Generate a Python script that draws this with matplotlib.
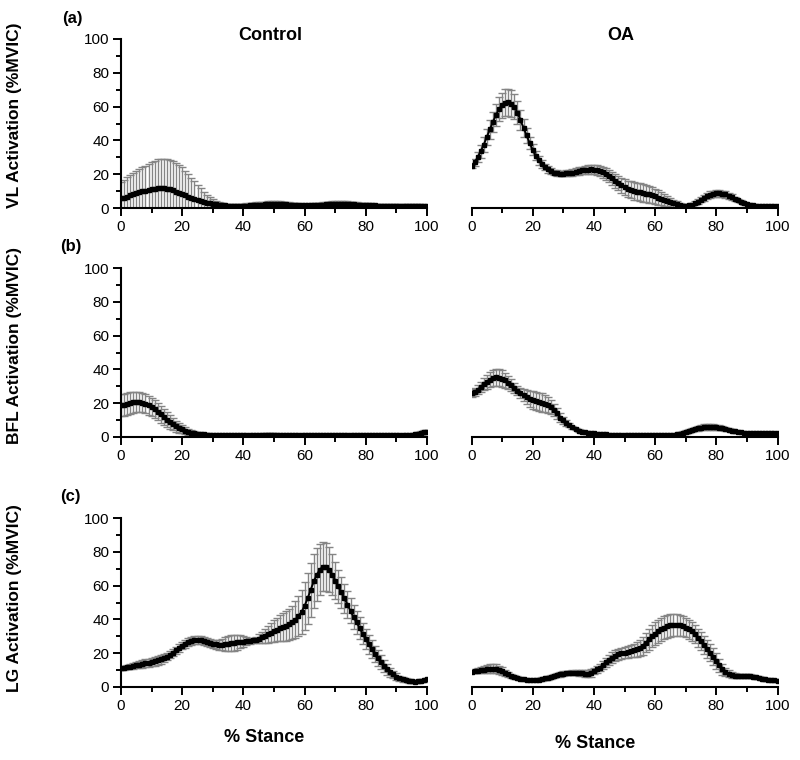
"""
EMG activation (%MVIC) over stance for Control vs OA groups.
Mean curves with SD error bars, three muscles (VL, BFL, LG).
"""

import numpy as np
import matplotlib.pyplot as plt

plt.rcParams["font.family"] = ["Liberation Sans", "DejaVu Sans"]

# ------------------------------
# Data (0..100 % stance, 1 % steps)
# ------------------------------
stance = np.arange(101)

vl_ctrl_mean = [
    5.7, 6.2, 6.8, 7.4, 8.0, 8.6, 9.2, 9.8, 10.3, 10.8, 11.2,
    11.5, 11.7, 11.8, 11.7, 11.4, 11.0, 10.4, 9.7, 9.0, 8.2,
    7.5, 6.8, 6.1, 5.4, 4.7, 4.1, 3.6, 3.2, 2.8, 2.5,
    2.2, 1.9, 1.7, 1.5, 1.4, 1.3, 1.3, 1.3, 1.3, 1.3,
    1.4, 1.5, 1.6, 1.8, 1.9, 2.0, 2.1, 2.2, 2.3, 2.3,
    2.3, 2.3, 2.2, 2.1, 2.0, 1.9, 1.8, 1.7, 1.6, 1.6,
    1.6, 1.6, 1.7, 1.8, 1.9, 2.0, 2.1, 2.2, 2.3, 2.4,
    2.4, 2.4, 2.4, 2.3, 2.2, 2.1, 2.0, 1.9, 1.8, 1.7,
    1.6, 1.5, 1.5, 1.4, 1.4, 1.4, 1.4, 1.4, 1.4, 1.4,
    1.4, 1.4, 1.3, 1.3, 1.3, 1.2, 1.2, 1.2, 1.1, 1.1,
]
vl_ctrl_sd = [
    9.8, 10.6, 11.4, 12.1, 12.8, 13.4, 13.9, 14.3, 14.7, 15.2, 15.8,
    16.5, 17.1, 17.3, 17.4, 17.4, 17.4, 17.2, 16.9, 16.4, 15.8,
    14.6, 13.3, 11.9, 10.4, 8.9, 7.5, 6.0, 4.7, 3.5, 2.6,
    1.9, 1.4, 1.2, 1.1, 1.1, 1.1, 1.1, 1.1, 1.2, 1.2,
    1.3, 1.4, 1.5, 1.5, 1.6, 1.6, 1.7, 1.7, 1.7, 1.7,
    1.7, 1.6, 1.5, 1.4, 1.3, 1.2, 1.1, 1.0, 0.9, 0.9,
    0.9, 1.0, 1.1, 1.2, 1.3, 1.4, 1.5, 1.5, 1.6, 1.6,
    1.6, 1.6, 1.6, 1.6, 1.5, 1.4, 1.3, 1.2, 1.2, 1.1,
    1.1, 1.1, 1.1, 1.1, 1.1, 1.0, 1.0, 1.0, 1.0, 1.0,
    1.0, 1.0, 0.9, 0.9, 0.9, 0.9, 0.9, 0.9, 0.9, 0.9,
]
vl_oa_mean = [
    25.0, 27.0, 30.0, 33.5, 37.5, 42.0, 46.5, 51.0, 55.0, 58.5, 60.8,
    62.2, 62.5, 61.8, 59.8, 56.5, 52.0, 47.5, 43.0, 38.5, 34.5,
    31.0, 28.2, 26.0, 24.2, 22.8, 21.7, 21.0, 20.6, 20.4, 20.4,
    20.5, 20.7, 21.0, 21.4, 21.8, 22.2, 22.5, 22.7, 22.8, 22.7,
    22.4, 21.9, 21.2, 20.2, 19.0, 17.6, 16.1, 14.7, 13.4, 12.3,
    11.4, 10.7, 10.1, 9.7, 9.3, 8.9, 8.5, 8.0, 7.5, 6.9,
    6.2, 5.5, 4.8, 4.1, 3.4, 2.8, 2.2, 1.7, 1.4, 1.3,
    1.5, 2.0, 2.8, 3.8, 4.9, 6.0, 7.0, 7.8, 8.3, 8.6,
    8.6, 8.4, 8.0, 7.3, 6.5, 5.5, 4.5, 3.6, 2.8, 2.2,
    1.8, 1.5, 1.3, 1.2, 1.2, 1.2, 1.2, 1.3, 1.3, 1.4,
]
vl_oa_sd = [
    1.5, 2.0, 3.0, 4.0, 4.5, 5.0, 5.5, 6.0, 6.5, 7.0, 7.5,
    8.0, 8.0, 7.8, 7.4, 6.8, 6.0, 5.2, 4.5, 3.8, 3.2,
    2.8, 2.5, 2.2, 2.0, 1.8, 1.7, 1.6, 1.6, 1.6, 1.7,
    1.8, 1.9, 2.0, 2.1, 2.2, 2.3, 2.4, 2.5, 2.6, 2.7,
    2.8, 3.0, 3.2, 3.4, 3.6, 3.8, 4.0, 4.2, 4.4, 4.6,
    4.8, 5.0, 5.1, 5.2, 5.2, 5.2, 5.1, 5.0, 4.8, 4.5,
    4.2, 3.8, 3.4, 3.0, 2.6, 2.2, 1.8, 1.4, 1.0, 0.8,
    0.8, 1.0, 1.2, 1.4, 1.6, 1.8, 1.9, 2.0, 2.0, 2.0,
    2.0, 1.9, 1.8, 1.7, 1.5, 1.3, 1.1, 0.9, 0.8, 0.7,
    0.6, 0.6, 0.6, 0.6, 0.6, 0.6, 0.6, 0.6, 0.6, 0.6,
]

bfl_ctrl_mean = [
    18.7, 19.2, 19.7, 20.1, 20.5, 20.7, 20.7, 20.4, 19.8, 18.9, 17.8,
    16.5, 15.0, 13.4, 11.8, 10.3, 8.9, 7.6, 6.4, 5.4, 4.5,
    3.8, 3.1, 2.6, 2.2, 1.9, 1.7, 1.5, 1.4, 1.3, 1.2,
    1.2, 1.1, 1.1, 1.1, 1.1, 1.1, 1.1, 1.1, 1.1, 1.1,
    1.1, 1.1, 1.2, 1.2, 1.3, 1.3, 1.4, 1.4, 1.4, 1.4,
    1.3, 1.3, 1.2, 1.2, 1.2, 1.1, 1.1, 1.1, 1.1, 1.1,
    1.1, 1.1, 1.1, 1.1, 1.1, 1.1, 1.1, 1.1, 1.1, 1.1,
    1.1, 1.1, 1.1, 1.1, 1.1, 1.1, 1.1, 1.1, 1.1, 1.1,
    1.1, 1.1, 1.1, 1.1, 1.0, 1.0, 1.0, 1.0, 0.9, 0.9,
    0.9, 0.9, 1.0, 1.1, 1.3, 1.6, 2.0, 2.4, 2.8, 3.1,
]
bfl_ctrl_sd = [
    6.5, 6.5, 6.4, 6.3, 6.2, 6.0, 5.9, 5.8, 5.7, 5.6, 5.5,
    5.3, 5.1, 4.9, 4.6, 4.3, 4.0, 3.6, 3.2, 2.8, 2.4,
    2.0, 1.7, 1.4, 1.2, 1.0, 0.9, 0.8, 0.7, 0.7, 0.6,
    0.6, 0.6, 0.6, 0.6, 0.6, 0.6, 0.6, 0.6, 0.6, 0.6,
    0.6, 0.6, 0.6, 0.7, 0.7, 0.7, 0.7, 0.7, 0.7, 0.7,
    0.6, 0.6, 0.6, 0.6, 0.6, 0.6, 0.6, 0.6, 0.6, 0.6,
    0.5, 0.5, 0.5, 0.5, 0.5, 0.5, 0.5, 0.5, 0.5, 0.5,
    0.5, 0.5, 0.5, 0.5, 0.5, 0.5, 0.5, 0.5, 0.5, 0.5,
    0.5, 0.5, 0.5, 0.5, 0.5, 0.5, 0.5, 0.5, 0.5, 0.5,
    0.5, 0.5, 0.5, 0.6, 0.7, 0.8, 0.9, 1.0, 1.1, 1.2,
]
bfl_oa_mean = [
    26.0, 26.6, 28.0, 29.6, 31.2, 32.6, 33.8, 34.8, 35.3, 35.2, 34.6,
    33.6, 32.2, 30.6, 29.0, 27.4, 26.0, 24.8, 23.6, 22.6, 21.8,
    21.2, 20.8, 20.4, 19.8, 19.0, 17.8, 16.0, 14.0, 11.5, 9.8,
    8.4, 7.0, 5.8, 4.8, 3.8, 3.2, 2.8, 2.5, 2.3, 2.1,
    1.9, 1.8, 1.6, 1.5, 1.4, 1.3, 1.2, 1.2, 1.1, 1.1,
    1.0, 1.0, 1.0, 0.9, 0.9, 0.9, 0.9, 0.9, 0.9, 0.9,
    0.9, 0.9, 1.0, 1.0, 1.1, 1.3, 1.6, 2.0, 2.5, 3.0,
    3.6, 4.2, 4.8, 5.2, 5.5, 5.8, 5.9, 6.0, 5.9, 5.8,
    5.5, 5.2, 4.8, 4.3, 3.8, 3.4, 3.0, 2.7, 2.5, 2.4,
    2.4, 2.4, 2.4, 2.5, 2.5, 2.6, 2.6, 2.6, 2.6, 2.6,
]
bfl_oa_sd = [
    2.5, 2.5, 2.8, 3.2, 3.6, 4.0, 4.4, 4.7, 5.0, 5.0, 4.8,
    4.5, 4.0, 3.5, 3.0, 2.8, 3.0, 3.5, 4.2, 4.8, 5.2,
    5.4, 5.5, 5.4, 5.2, 4.8, 4.3, 3.7, 3.1, 2.5, 2.0,
    1.6, 1.3, 1.0, 0.8, 0.7, 0.6, 0.6, 0.5, 0.5, 0.5,
    0.5, 0.5, 0.5, 0.5, 0.5, 0.5, 0.5, 0.5, 0.5, 0.5,
    0.5, 0.5, 0.5, 0.5, 0.5, 0.5, 0.5, 0.5, 0.5, 0.5,
    0.5, 0.5, 0.5, 0.5, 0.5, 0.6, 0.7, 0.8, 0.9, 1.0,
    1.1, 1.2, 1.3, 1.4, 1.5, 1.6, 1.6, 1.6, 1.6, 1.5,
    1.4, 1.3, 1.2, 1.0, 0.9, 0.8, 0.7, 0.6, 0.6, 0.6,
    0.6, 0.6, 0.6, 0.6, 0.6, 0.6, 0.6, 0.6, 0.6, 0.6,
]

lg_ctrl_mean = [
    11.0, 11.3, 11.6, 12.0, 12.4, 12.8, 13.2, 13.6, 14.0, 14.4, 14.8,
    15.2, 15.7, 16.3, 17.0, 17.9, 19.0, 20.3, 21.7, 23.1, 24.4,
    25.6, 26.6, 27.3, 27.7, 27.8, 27.6, 27.2, 26.7, 26.1, 25.6,
    25.3, 25.1, 25.1, 25.3, 25.6, 25.9, 26.2, 26.5, 26.7, 26.9,
    27.1, 27.3, 27.6, 28.0, 28.6, 29.3, 30.2, 31.2, 32.2, 33.2,
    34.0, 34.8, 35.5, 36.2, 37.0, 38.2, 39.8, 42.0, 44.5, 48.0,
    52.5, 57.5, 62.5, 66.5, 69.5, 71.3, 71.0, 69.5, 66.5, 63.0,
    59.5, 56.0, 52.5, 48.8, 45.0, 41.5, 38.2, 35.0, 31.5, 28.3,
    25.2, 22.3, 19.5, 17.0, 14.6, 12.5, 10.5, 8.8, 7.4, 6.2,
    5.2, 4.5, 4.0, 3.6, 3.3, 3.2, 3.3, 3.6, 4.0, 4.5,
]
lg_ctrl_sd = [
    1.0, 1.1, 1.2, 1.4, 1.6, 1.8, 2.0, 2.2, 2.3, 2.4, 2.5,
    2.5, 2.5, 2.4, 2.3, 2.2, 2.1, 2.0, 2.0, 2.1, 2.2,
    2.3, 2.4, 2.5, 2.5, 2.5, 2.4, 2.3, 2.2, 2.2, 2.3,
    2.6, 3.0, 3.5, 4.0, 4.4, 4.7, 4.7, 4.4, 3.8, 3.0,
    2.2, 1.6, 1.5, 1.8, 2.5, 3.3, 4.1, 4.9, 5.6, 6.3,
    7.0, 7.6, 8.2, 8.8, 9.4, 10.0, 10.8, 11.8, 13.0, 14.2,
    15.2, 15.8, 16.0, 15.8, 15.2, 14.5, 14.0, 13.2, 12.2, 11.0,
    10.0, 9.2, 8.5, 7.9, 7.4, 7.0, 6.7, 6.4, 6.2, 6.0,
    5.7, 5.4, 5.0, 4.6, 4.2, 3.7, 3.2, 2.7, 2.2, 1.8,
    1.5, 1.3, 1.1, 1.0, 0.9, 0.9, 0.9, 0.9, 1.0, 1.0,
]
lg_oa_mean = [
    9.0, 9.3, 9.6, 9.9, 10.2, 10.5, 10.8, 10.9, 10.7, 10.2, 9.4,
    8.4, 7.5, 6.7, 6.0, 5.4, 4.9, 4.5, 4.3, 4.1, 4.1,
    4.2, 4.4, 4.7, 5.1, 5.5, 5.9, 6.4, 6.9, 7.4, 7.9,
    8.2, 8.4, 8.5, 8.5, 8.3, 8.1, 7.9, 7.9, 8.3, 9.4,
    10.5, 11.5, 13.0, 14.6, 16.1, 17.4, 18.5, 19.3, 19.9, 20.4,
    20.8, 21.2, 21.7, 22.3, 23.2, 24.5, 26.3, 28.3, 30.0, 31.6,
    33.0, 34.2, 35.2, 35.9, 36.4, 36.6, 36.6, 36.4, 36.0, 35.2,
    34.2, 32.9, 31.2, 29.2, 27.0, 24.7, 22.5, 20.4, 18.0, 15.4,
    12.8, 10.5, 8.9, 7.8, 7.1, 6.8, 6.7, 6.6, 6.6, 6.5,
    6.3, 6.1, 5.8, 5.5, 5.0, 4.7, 4.4, 4.2, 4.0, 3.8,
]
lg_oa_sd = [
    1.0, 1.2, 1.5, 1.8, 2.1, 2.4, 2.6, 2.7, 2.7, 2.5, 2.2,
    1.8, 1.5, 1.2, 1.0, 0.9, 0.8, 0.7, 0.7, 0.7, 0.7,
    0.8, 0.9, 1.0, 1.0, 1.1, 1.1, 1.2, 1.2, 1.3, 1.3,
    1.3, 1.3, 1.3, 1.4, 1.6, 1.8, 2.0, 2.1, 2.1, 2.0,
    2.0, 2.1, 2.3, 2.6, 2.9, 3.1, 3.2, 3.3, 3.3, 3.3,
    3.4, 3.6, 3.9, 4.3, 4.8, 5.3, 5.8, 6.2, 6.5, 6.7,
    6.8, 6.8, 6.8, 6.7, 6.6, 6.5, 6.4, 6.2, 6.0, 5.8,
    5.6, 5.5, 5.4, 5.4, 5.4, 5.4, 5.3, 5.2, 5.0, 4.6,
    4.0, 3.3, 2.6, 2.0, 1.6, 1.3, 1.2, 1.1, 1.1, 1.1,
    1.1, 1.0, 1.0, 1.0, 0.9, 0.9, 0.9, 0.8, 0.8, 0.8,
]

groups = ["Control", "OA"]
muscles = ["VL", "BFL", "LG"]
panel_tags = ["(a)", "(b)", "(c)"]
series = {
    ("VL", "Control"): (vl_ctrl_mean, vl_ctrl_sd),
    ("VL", "OA"): (vl_oa_mean, vl_oa_sd),
    ("BFL", "Control"): (bfl_ctrl_mean, bfl_ctrl_sd),
    ("BFL", "OA"): (bfl_oa_mean, bfl_oa_sd),
    ("LG", "Control"): (lg_ctrl_mean, lg_ctrl_sd),
    ("LG", "OA"): (lg_oa_mean, lg_oa_sd),
}

# ------------------------------
# Layout (figure fractions, 800x760 px)
# ------------------------------
W, H = 800, 760
col_left = [121 / W, 471.5 / W]
col_w = 306 / W
row_bottom_px = [208, 437, 687]
row_h = 169 / H

fig = plt.figure(figsize=(8, 7.6), dpi=100)

for r, muscle in enumerate(muscles):
    for c, grp in enumerate(groups):
        ax = fig.add_axes([col_left[c], 1 - row_bottom_px[r] / H, col_w, row_h])
        mean, sd = series[(muscle, grp)]
        mean = np.asarray(mean)
        sd = np.asarray(sd)

        ax.errorbar(stance, mean, yerr=sd, fmt="none", ecolor="#858585",
                    elinewidth=1.0, capsize=3, capthick=1.0, zorder=2)
        ax.plot(stance, mean, "s-", color="black", ms=2.4, lw=1.4, zorder=3)

        ax.set_xlim(0, 100)
        ax.set_ylim(0, 100)
        ax.set_xticks(np.arange(0, 101, 20))
        ax.set_xticks(np.arange(10, 100, 20), minor=True)
        ax.spines["top"].set_visible(False)
        ax.spines["right"].set_visible(False)
        ax.spines["bottom"].set_linewidth(1.5)
        ax.spines["left"].set_linewidth(1.5)
        ax.tick_params(axis="both", which="major", direction="out",
                       length=5.5, width=1.4, labelsize=11, pad=3)
        ax.tick_params(axis="both", which="minor", direction="out",
                       length=3.6, width=1.4)

        if c == 0:
            ax.set_yticks(np.arange(0, 101, 20))
            ax.set_yticks(np.arange(10, 100, 20), minor=True)
        else:
            ax.spines["left"].set_visible(False)
            ax.set_yticks([])
            ax.set_yticks([], minor=True)

# row labels, tags, titles
ylab_centres = [115, 345, 598]
for r, muscle in enumerate(muscles):
    fig.text(15 / W, 1 - ylab_centres[r] / H, f"{muscle} Activation (%MVIC)",
             rotation=90, ha="center", va="center", fontsize=12.5, fontweight="bold")

tag_pos = [(62, 19), (60, 246), (60, 496)]
for tag, (tx, ty) in zip(panel_tags, tag_pos):
    fig.text(tx / W, 1 - ty / H, tag, ha="left", va="center",
             fontsize=12, fontweight="bold")

fig.text(270 / W, 1 - 35 / H, "Control", ha="center", va="center",
         fontsize=13, fontweight="bold")
fig.text(621 / W, 1 - 35 / H, "OA", ha="center", va="center",
         fontsize=13, fontweight="bold")

narrow = ["Liberation Sans Narrow", "Liberation Sans", "DejaVu Sans"]
fig.text(264 / W, 1 - 737 / H, "% Stance", ha="center", va="center",
         fontsize=13, fontweight="bold", family=narrow)
fig.text(595 / W, 1 - 743 / H, "% Stance", ha="center", va="center",
         fontsize=13, fontweight="bold", family=narrow)

fig.savefig("out.png", dpi=100)
